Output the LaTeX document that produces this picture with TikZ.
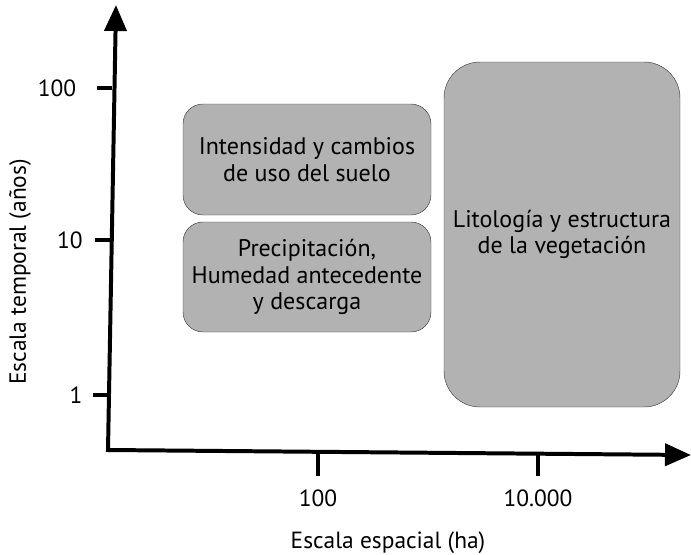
\documentclass[tikz,border=0pt]{standalone}
\usepackage{fontspec}
\setmainfont{PT Sans}
\usetikzlibrary{arrows.meta}

\begin{document}
\begin{tikzpicture}[x=0.03cm,y=-0.03cm]

    \tikzset{
      axis/.style={
        line width=3.4pt,
        line cap=rect,
      },
      factor/.style={
        draw=black!75,
        fill=black!30,
        thin,
        rounded corners=20*0.03cm,
        align=center,
        font=\fontsize{20.5}{22.5}\selectfont,
      },
      ticklabel/.style={
        font=\fontsize{20}{22}\selectfont,
      },
    }
    \useasboundingbox (0,0) rectangle (691,555);

	% axes
	\coordinate (origin) at (108,450);
	\coordinate (ytip) at (116,5);
	\coordinate (xtip) at (691,455);
	\draw[axis,-{Triangle[width=22*0.03cm,length=26*0.03cm]}] (origin)--(ytip);
	\draw[axis,-{Triangle[width=22*0.03cm,length=26*0.03cm]}] (origin)--(xtip);

	% ticks on the time axis
	\coordinate (t100) at (112,88);
	\coordinate (t10) at (110,240);
	\coordinate (t1) at (108,395);
	\draw[axis,line cap=butt] (t100)--++(-15,0);
	\draw[axis,line cap=butt] (t10)--++(-15,0);
	\draw[axis,line cap=butt] (t1)--++(-15,0);
	\node[ticklabel] (l100) at (57,88) {100};
	\node[ticklabel] (l10) at (70,240) {10};
	\node[ticklabel] (l1) at (76,395) {1};

	% ticks on the space axis
	\coordinate (s100) at (318,452);
	\coordinate (s10000) at (538,453);
	\draw[axis,line cap=butt] (s100)--(318,476);
	\draw[axis,line cap=butt] (s10000)--(538,476);
	\node[ticklabel] (ls100) at (318,498) {100};
	\node[ticklabel] (ls10000) at (538,498) {10.000};

	% axis titles
	\node[ticklabel] (xtitle) at (388,543) {Escala espacial (ha)};
	\node[ticklabel,rotate=90] (ytitle) at (20,272) {Escala temporal (años)};

	% factors
	\node[factor,minimum width=248*0.03cm,minimum height=111*0.03cm] (uso) at (307,159.5)
	  {Intensidad y cambios\\de uso del suelo};
	\node[factor,minimum width=248*0.03cm,minimum height=110*0.03cm] (precip) at (307,277)
	  {Precipitación,\\Humedad antecedente\\y descarga};
	\node[factor,rounded corners=36*0.03cm,minimum width=236*0.03cm,minimum height=345*0.03cm] (lito) at (562,234.5)
	  {Litología y estructura\\de la vegetación};

\end{tikzpicture}
\end{document}
